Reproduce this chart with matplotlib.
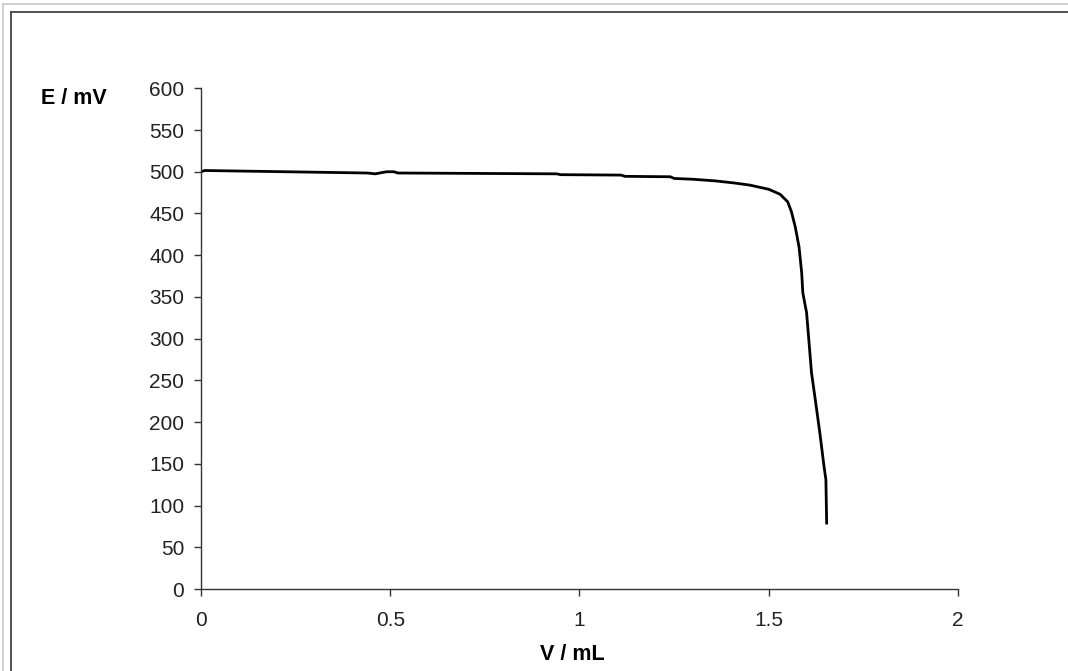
import matplotlib.pyplot as plt
from matplotlib.lines import Line2D

# titration curve
volume_ml = [0, 0.01, 0.08, 0.44, 0.46, 0.49, 0.51, 0.52, 0.94, 0.95, 1.11, 1.12,
             1.24, 1.25, 1.30, 1.36, 1.41, 1.45, 1.50, 1.53, 1.55, 1.56, 1.57,
             1.58, 1.587, 1.59, 1.60, 1.606, 1.613, 1.622, 1.635, 1.646, 1.651, 1.653]
potential_mv = [500, 501.5, 501, 498.5, 497.5, 500, 500, 498.5, 497.5, 496.5, 496, 494.5,
                494, 492, 491, 489, 486.5, 484, 479, 473, 464, 452, 434,
                410, 379, 355, 331, 298, 259, 230, 187, 147, 131, 79]

x_ticks = [0, 0.5, 1, 1.5, 2]
x_tick_labels = ['0', '0.5', '1', '1.5', '2']
y_ticks = list(range(0, 601, 50))

plt.rcParams['font.family'] = ['Liberation Sans', 'DejaVu Sans']

fig = plt.figure(figsize=(10.68, 6.71), dpi=100)
ax = fig.add_axes([0.1882, 0.1222, 0.7088, 0.7462])

ax.plot(volume_ml, potential_mv, color='black', linewidth=2.0)

ax.set_xlim(0, 2)
ax.set_ylim(0, 600)
ax.set_xticks(x_ticks)
ax.set_xticklabels(x_tick_labels)
ax.set_yticks(y_ticks)

for side in ['top', 'right']:
    ax.spines[side].set_visible(False)
for side in ['left', 'bottom']:
    ax.spines[side].set_color('#333333')
    ax.spines[side].set_linewidth(1.0)

ax.tick_params(axis='both', direction='out', length=5, width=1.0, color='#333333',
               labelsize=15, labelcolor='#222222')
ax.tick_params(axis='y', pad=7)
ax.tick_params(axis='x', pad=11)

# axis titles, Excel style
fig.text(74 / 1068, 1 - 98 / 671, 'E / mV', fontsize=15.5, fontweight='bold',
         ha='center', va='center')
fig.text(572 / 1068, 1 - 655 / 671, 'V / mL', fontsize=15.5, fontweight='bold',
         ha='center', va='center')

# chart frame (cut off at right and bottom)
x_out, y_out = 3 / 1068, 1 - 4 / 671
x_in, y_in = 11 / 1068, 1 - 12 / 671
fig.add_artist(Line2D([x_out, x_out], [0, y_out], color='#c8c8c8', lw=1.2, transform=fig.transFigure))
fig.add_artist(Line2D([x_out, 1], [y_out, y_out], color='#c8c8c8', lw=1.2, transform=fig.transFigure))
fig.add_artist(Line2D([x_in, x_in], [0, y_in], color='#444444', lw=1.3, transform=fig.transFigure))
fig.add_artist(Line2D([x_in, 1], [y_in, y_in], color='#444444', lw=1.3, transform=fig.transFigure))

fig.savefig('out.png', dpi=100, facecolor='white')
